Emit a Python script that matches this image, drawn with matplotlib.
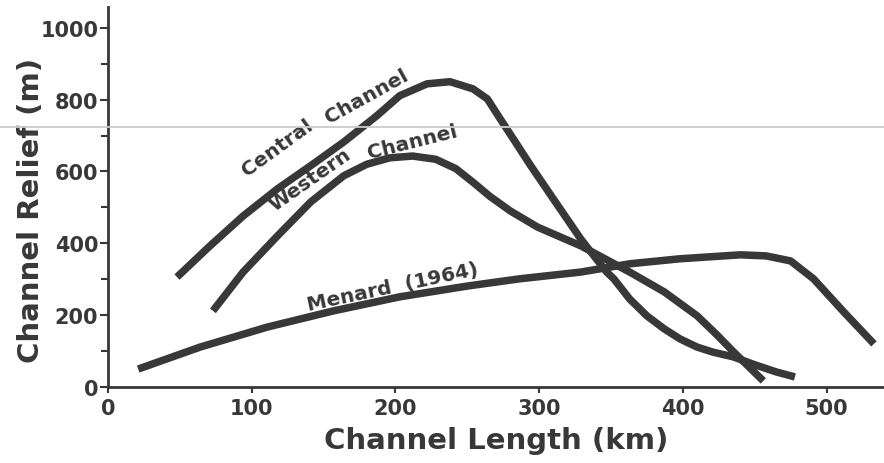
import matplotlib
matplotlib.use("Agg")
import matplotlib.pyplot as plt
from matplotlib.lines import Line2D

plt.rcParams['font.family'] = ['DejaVu Sans']
plt.rcParams['font.weight'] = 'bold'

# values (km, m)
central_x = [48, 71, 94, 118, 141, 164, 187, 203, 222, 238, 254, 264, 273, 282, 294,
             310, 329, 347, 352, 363, 375, 387, 398, 410, 421, 435, 450, 465, 478]
central_y = [306, 393, 476, 552, 616, 682, 755, 811, 844, 850, 830, 802, 746, 691, 617,
             523, 412, 320, 301, 245, 198, 162, 134, 111, 97, 84, 62, 42, 28]

western_x = [73, 94, 118, 141, 164, 180, 196, 212, 228, 242, 254, 266, 280, 299, 329,
             363, 387, 410, 423, 436, 456]
western_y = [212, 320, 421, 515, 588, 620, 638, 643, 634, 608, 570, 530, 490, 445, 393,
             320, 265, 198, 148, 95, 17]

menard_x = [21, 64, 111, 157, 203, 250, 286, 329, 363, 398, 440, 458, 475, 491, 512, 533]
menard_y = [50, 111, 167, 212, 251, 281, 301, 320, 343, 357, 368, 365, 351, 301, 209, 120]

# curve labels, one entry per word group: text, position (km, m), angle
labels = ['Central', 'Channel', 'Western', 'Channel', 'Menard  (1964)']
label_x = [118, 180, 141, 212, 198]
label_y = [669, 812, 579, 683, 281]
label_rot = [36, 29, 35, 14, 12]

ink = '#383838'

fig = plt.figure(figsize=(8.84, 4.64), dpi=100)
ax = fig.add_axes([0.1222, 0.1638, 0.8778, 0.8190])

for xs, ys in [(central_x, central_y), (western_x, western_y), (menard_x, menard_y)]:
    ax.plot(xs, ys, color=ink, lw=5.4, solid_capstyle='butt', solid_joinstyle='round')

for txt, tx, ty, rot in zip(labels, label_x, label_y, label_rot):
    ax.text(tx, ty, txt, rotation=rot, rotation_mode='anchor', ha='center', va='center',
            fontsize=14.5, fontweight='bold', color=ink)

ax.set_xlim(0, 540)
ax.set_ylim(0, 1058)
ax.set_xticks([0, 100, 200, 300, 400, 500])
ax.set_yticks([0, 200, 400, 600, 800, 1000])
ax.set_yticks(range(100, 1000, 200), minor=True)

for s in ['top', 'right']:
    ax.spines[s].set_visible(False)
for s in ['left', 'bottom']:
    ax.spines[s].set_linewidth(2)
    ax.spines[s].set_color(ink)

ax.tick_params(axis='both', which='both', direction='out', color=ink, width=1.5)
ax.tick_params(axis='y', which='major', length=6, labelsize=15, pad=1)
ax.tick_params(axis='y', which='minor', length=5)
ax.tick_params(axis='x', which='major', length=4, labelsize=15, pad=4)
for lab in ax.get_xticklabels() + ax.get_yticklabels():
    lab.set_color(ink)
    lab.set_fontweight('bold')

ax.set_xlabel('Channel Length (km)', fontsize=21, fontweight='bold', color=ink, labelpad=5.5)
ax.set_ylabel('Channel Relief (m)', fontsize=21, fontweight='bold', color=ink)
ax.yaxis.set_label_coords(-0.081, 0.468)

# faint scan line across the page
fig.add_artist(Line2D([0, 1], [1 - 128 / 464] * 2, transform=fig.transFigure,
                      color='#cccccc', lw=1.3))

fig.savefig('out.png', dpi=100, facecolor='white')
